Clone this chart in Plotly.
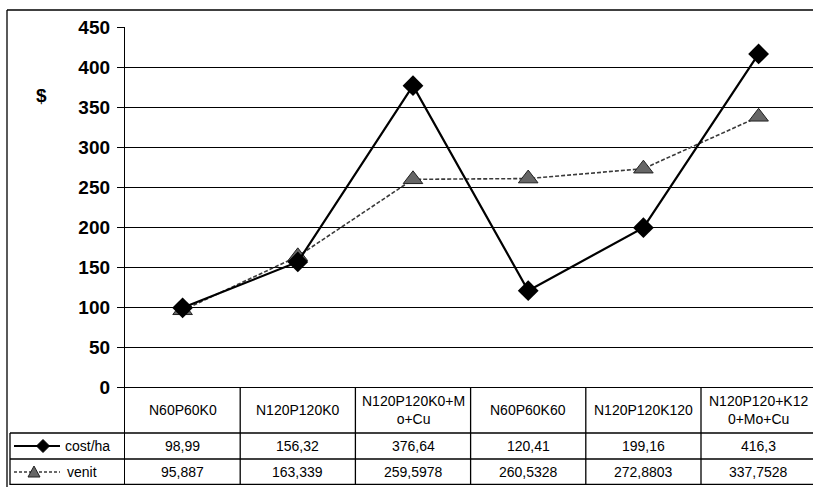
import plotly.graph_objects as go

# ---- data ----
categories = ["N60P60K0", "N120P120K0", "N120P120K0+M<br>o+Cu", "N60P60K60",
              "N120P120K120", "N120P120+K12<br>0+Mo+Cu"]
cost_ha = [98.99, 156.32, 376.64, 120.41, 199.16, 416.3]
venit = [95.887, 163.339, 259.5978, 260.5328, 272.8803, 337.7528]
series_names = ["cost/ha", "venit"]
y_ticks = [0, 50, 100, 150, 200, 250, 300, 350, 400, 450]

OFF = 0
W, H = 813, 487
L, R, T, B = 125, 0, 27, 2
PW = W - L - R
PH = H - T - B
Y_TOP = 450
PX_PER_UNIT = 0.8
Y_MIN = Y_TOP - PH / PX_PER_UNIT
COL_W = 115.2
X_MIN = -0.5
X_MAX = X_MIN + PW / COL_W


def px_x(sx):
    """screen x -> paper x"""
    return (sx - OFF - L) / PW


def px_y(sy):
    """screen y -> paper y"""
    return (H - B - (sy - OFF)) / PH


def py_to_data(sy):
    return Y_TOP - (sy - OFF - T) / PX_PER_UNIT


FONT = "Arial, Liberation Sans, sans-serif"
x = list(range(len(categories)))

fig = go.Figure()
fig.add_trace(go.Scatter(
    x=x, y=venit, name=series_names[1], mode="lines+markers",
    line=dict(color="#3a3a3a", width=1.6, dash="4px,2px"),
    marker=dict(symbol="triangle-up", size=17, color="#666666",
                line=dict(color="#222222", width=1)),
    showlegend=False, cliponaxis=False))
fig.add_trace(go.Scatter(
    x=x, y=cost_ha, name=series_names[0], mode="lines+markers",
    line=dict(color="black", width=2.2),
    marker=dict(symbol="diamond", size=16, color="black"),
    showlegend=False, cliponaxis=False))

shapes = []
ann = []
row_hdr_bot = py_to_data(433)
row_mid = py_to_data(459)
row_bot = Y_MIN

# horizontal table lines
for yy in [row_hdr_bot, row_mid, row_bot + 0.8]:
    shapes.append(dict(type="line", xref="paper", yref="y", x0=px_x(10), x1=1,
                       y0=yy, y1=yy, line=dict(color="black", width=1.3)))
# vertical column lines
for i in range(len(categories)):
    xb = i + 0.5
    if xb < X_MAX:
        shapes.append(dict(type="line", xref="x", yref="y", x0=xb, x1=xb,
                           y0=0, y1=row_bot, line=dict(color="black", width=1.3)))
# left legend cell border
shapes.append(dict(type="line", xref="paper", yref="y", x0=px_x(10), x1=px_x(10),
                   y0=row_hdr_bot, y1=row_bot, line=dict(color="black", width=1.3)))
# outer chart border
shapes.append(dict(type="line", xref="paper", yref="paper", x0=px_x(7), x1=px_x(7),
                   y0=px_y(10), y1=px_y(487), line=dict(color="black", width=1.3)))
shapes.append(dict(type="line", xref="paper", yref="paper", x0=px_x(7), x1=1,
                   y0=px_y(10), y1=px_y(10), line=dict(color="black", width=1.3)))

# legend keys
cy1 = (row_hdr_bot + row_mid) / 2
cy2 = (row_mid + row_bot) / 2
cyp = OFF + T + (Y_TOP - cy1) * PX_PER_UNIT
cyp2 = OFF + T + (Y_TOP - cy2) * PX_PER_UNIT
shapes.append(dict(type="line", xref="paper", yref="y", x0=px_x(14), x1=px_x(60),
                   y0=cy1, y1=cy1, line=dict(color="black", width=2)))
dx, dy = 6.5, 6.5
cx = 43
shapes.append(dict(type="path", xref="paper", yref="paper",
                   path=f"M {px_x(cx-dx)} {px_y(cyp)} L {px_x(cx)} {px_y(cyp-dy)} L {px_x(cx+dx)} {px_y(cyp)} L {px_x(cx)} {px_y(cyp+dy)} Z",
                   fillcolor="black", line=dict(color="black", width=1)))
shapes.append(dict(type="line", xref="paper", yref="y", x0=px_x(14), x1=px_x(60),
                   y0=cy2, y1=cy2, line=dict(color="#3a3a3a", width=1.6, dash="3px,2px")))
cx2 = 34
shapes.append(dict(type="path", xref="paper", yref="paper",
                   path=f"M {px_x(cx2-6)} {px_y(cyp2+5)} L {px_x(cx2)} {px_y(cyp2-6)} L {px_x(cx2+6)} {px_y(cyp2+5)} Z",
                   fillcolor="#666666", line=dict(color="#222222", width=1)))

tf = dict(family=FONT, size=14, color="black")
ann.append(dict(text=series_names[0], xref="paper", yref="y", x=px_x(63), y=cy1,
                xanchor="left", yanchor="middle", showarrow=False, font=tf))
ann.append(dict(text=series_names[1], xref="paper", yref="y", x=px_x(65), y=cy2,
                xanchor="left", yanchor="middle", showarrow=False, font=tf))
hdr_y = py_to_data(410)
for i, c in enumerate(categories):
    ann.append(dict(text=c, xref="x", yref="y", x=i, y=hdr_y, showarrow=False,
                    xanchor="center", yanchor="middle", font=tf))
    ann.append(dict(text=str(cost_ha[i]).replace(".", ","), xref="x", yref="y", x=i, y=cy1,
                    showarrow=False, xanchor="center", yanchor="middle", font=tf))
    ann.append(dict(text=str(venit[i]).replace(".", ","), xref="x", yref="y", x=i, y=cy2,
                    showarrow=False, xanchor="center", yanchor="middle", font=tf))
ann.append(dict(text="<b>$</b>", xref="paper", yref="paper", x=px_x(41), y=px_y(95),
                showarrow=False, xanchor="center", yanchor="middle",
                font=dict(family=FONT, size=19, color="black")))

fig.update_layout(
    width=W, height=H, margin=dict(l=L, r=R, t=T, b=B, pad=0),
    paper_bgcolor="white", plot_bgcolor="white",
    shapes=shapes, annotations=ann, showlegend=False,
    xaxis=dict(range=[X_MIN, X_MAX], visible=False, showgrid=False, zeroline=False),
    yaxis=dict(range=[Y_MIN, Y_TOP], tickvals=y_ticks,
               ticktext=[f"<b>{v}</b>" for v in y_ticks],
               tickfont=dict(family=FONT, size=19, color="black"),
               ticks="outside", ticklen=7, tickcolor="black", tickwidth=1.3,
               showline=True, linecolor="black", linewidth=1.3,
               showgrid=True, gridcolor="black", gridwidth=1.3,
               zeroline=True, zerolinecolor="black", zerolinewidth=1.3,
               ticklabelstandoff=3),
)

fig.write_html(
    "out.html",
    config={"displayModeBar": False},
    post_script="document.body.style.margin='0px';document.body.style.overflow='hidden';",
)
